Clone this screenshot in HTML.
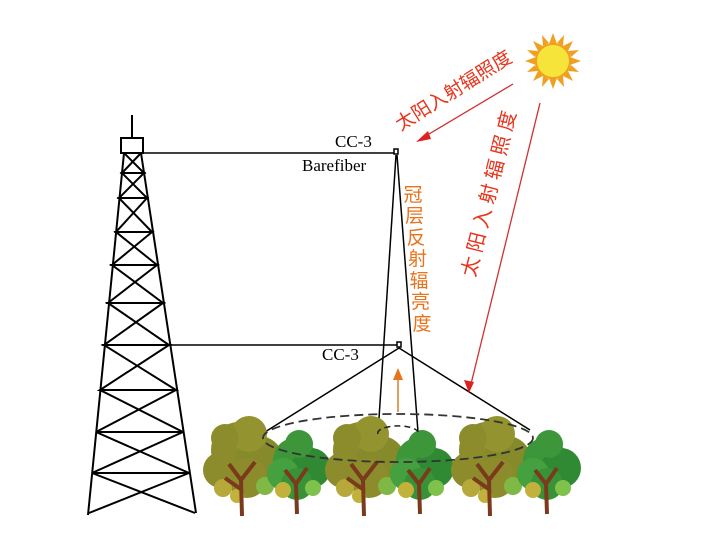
<!DOCTYPE html>
<html><head><meta charset="utf-8"><style>
html,body{margin:0;padding:0;background:#fff;}
svg{display:block;}
</style></head><body>
<svg width="712" height="538" viewBox="0 0 712 538" xmlns="http://www.w3.org/2000/svg">
<defs>
<g id="olive">
  <circle cx="-6" cy="-66" r="28" fill="#8c8c2c"/>
  <circle cx="14" cy="-56" r="24" fill="#868a2a"/>
  <circle cx="-24" cy="-46" r="18" fill="#8c8c2c"/>
  <circle cx="4" cy="-82" r="18" fill="#93932f"/>
  <circle cx="-20" cy="-78" r="14" fill="#8c8c2c"/>
  <circle cx="2" cy="-38" r="20" fill="#8c8c2c"/>
  <circle cx="-22" cy="-28" r="9" fill="#b7a83a"/>
  <circle cx="20" cy="-30" r="9" fill="#7fb845"/>
  <circle cx="-8" cy="-20" r="7" fill="#c2b23c"/>
  <path d="M-3,0 L-4,-36 L-16,-52 M-4,-36 L10,-54 M-3,-26 L-20,-38" stroke="#7a3a1c" stroke-width="4" fill="none"/>
</g>
<g id="green">
  <circle cx="-2" cy="-54" r="22" fill="#3d963a"/>
  <circle cx="14" cy="-46" r="20" fill="#2f8a33"/>
  <circle cx="-14" cy="-40" r="16" fill="#45a040"/>
  <circle cx="2" cy="-70" r="14" fill="#3d963a"/>
  <circle cx="0" cy="-30" r="16" fill="#3a9238"/>
  <circle cx="-14" cy="-24" r="8" fill="#c2b23c"/>
  <circle cx="16" cy="-26" r="8" fill="#7fc24b"/>
  <path d="M0,0 L-1,-30 L-12,-44 M-1,-30 L10,-46" stroke="#7a3a1c" stroke-width="4" fill="none"/>
</g>
</defs>

<!-- tower -->
<g stroke="#000" stroke-width="2" fill="none">
  <line x1="132" y1="115" x2="132" y2="138"/>
  <rect x="121" y="138" width="22" height="15" fill="#fff"/>
  <line x1="124" y1="153" x2="88" y2="515"/>
  <line x1="141" y1="153" x2="196" y2="513"/>
  <line x1="122" y1="173" x2="144" y2="173"/>
  <line x1="119" y1="198" x2="147" y2="198"/>
  <line x1="116" y1="232" x2="152" y2="232"/>
  <line x1="112" y1="265" x2="157" y2="265"/>
  <line x1="108" y1="303" x2="163" y2="303"/>
  <line x1="104" y1="345" x2="169" y2="345"/>
  <line x1="100" y1="390" x2="176" y2="390"/>
  <line x1="96" y1="432" x2="183" y2="432"/>
  <line x1="92" y1="473" x2="189" y2="473"/>
  <polyline points="124,153 144,173 122,173 147,198 119,198 152,232 116,232 157,265 112,265 163,303 108,303 169,345 104,345 176,390 100,390 183,432 96,432 189,473 92,473 195,513"/>
  <polyline points="141,153 122,173 144,173 119,198 147,198 116,232 152,232 112,265 157,265 108,303 163,303 104,345 169,345 100,390 176,390 96,432 183,432 92,473 189,473 89,513"/>
</g>
<g stroke="#000" stroke-width="1.5" fill="none">
  <line x1="143" y1="153" x2="397" y2="153"/>
  <line x1="169" y1="345" x2="400" y2="345"/>
  <rect x="394" y="149" width="4" height="5" fill="#fff"/>
  <rect x="397" y="342" width="4" height="5" fill="#fff"/>
  <line x1="396" y1="155" x2="378" y2="434"/>
  <line x1="397" y1="155" x2="418" y2="432"/>
  <line x1="399" y1="348" x2="265" y2="432"/>
  <line x1="399" y1="348" x2="530" y2="430"/>
</g>
<text x="335" y="147" font-family="Liberation Serif, serif" font-size="17">CC-3</text>
<text x="302" y="171" font-family="Liberation Serif, serif" font-size="17">Barefiber</text>
<text x="322" y="360" font-family="Liberation Serif, serif" font-size="17">CC-3</text>

<!-- trees -->
<use href="#olive" x="245" y="516"/>
<use href="#green" x="297" y="514"/>
<use href="#olive" x="367" y="516"/>
<use href="#green" x="420" y="514"/>
<use href="#olive" x="493" y="516"/>
<use href="#green" x="547" y="514"/>

<!-- ellipses -->
<ellipse cx="398" cy="438" rx="135" ry="24" fill="none" stroke="#333" stroke-width="1.8" stroke-dasharray="9,5"/>
<path d="M378,434 A20,7 0 0 1 418,432" fill="none" stroke="#222" stroke-width="1.5" stroke-dasharray="6,4"/>

<!-- orange arrow -->
<line x1="398" y1="412" x2="398" y2="378" stroke="#e0a060" stroke-width="2"/>
<polygon points="398,368 393,380 403,380" fill="#e8731c"/>

<!-- sun -->
<g transform="translate(553,61)">
  <g fill="#f0a020">
    <polygon points="0,-28 -4,-17 4,-17"/><polygon points="0,28 -4,17 4,17"/>
    <polygon points="-28,0 -17,-4 -17,4"/><polygon points="28,0 17,-4 17,4"/>
    <polygon points="20,-20 10,-15 15,-10"/><polygon points="-20,-20 -10,-15 -15,-10"/>
    <polygon points="20,20 10,15 15,10"/><polygon points="-20,20 -10,15 -15,10"/>
    <polygon points="11,-26 4,-18 10,-15"/><polygon points="-11,-26 -4,-18 -10,-15"/>
    <polygon points="11,26 4,18 10,15"/><polygon points="-11,26 -4,18 -10,15"/>
    <polygon points="26,-11 18,-4 15,-10"/><polygon points="-26,-11 -18,-4 -15,-10"/>
    <polygon points="26,11 18,4 15,10"/><polygon points="-26,11 -18,4 -15,10"/>
  </g>
  <circle r="17" fill="#f7e43a" stroke="#f0a020" stroke-width="2"/>
</g>

<!-- red arrows -->
<line x1="513" y1="84" x2="424" y2="137" stroke="#d03030" stroke-width="1.3"/>
<polygon points="416,142 428,131 431,139" fill="#e02020"/>
<line x1="540" y1="103" x2="471" y2="384" stroke="#d03030" stroke-width="1.3"/>
<polygon points="469,393 464,380 474,382" fill="#e02020"/>

<text transform="translate(457,96) rotate(-32)" text-anchor="middle" font-family="Liberation Sans, Noto Sans CJK SC, sans-serif" font-size="19" fill="#e8341c">太阳入射辐照度</text>
<text transform="translate(496,193) rotate(-76)" text-anchor="middle" font-family="Liberation Sans, Noto Sans CJK SC, sans-serif" font-size="20" letter-spacing="5" fill="#e8341c">太阳入射辐照度</text>
<g font-family="Liberation Sans, Noto Sans CJK SC, sans-serif" font-size="19" fill="#e8731c" text-anchor="middle">
  <text x="413" y="201">冠</text>
  <text x="414.5" y="222">层</text>
  <text x="416" y="244">反</text>
  <text x="417.5" y="265">射</text>
  <text x="419" y="287">辐</text>
  <text x="420.5" y="308">亮</text>
  <text x="422" y="330">度</text>
</g>
</svg>
</body></html>
